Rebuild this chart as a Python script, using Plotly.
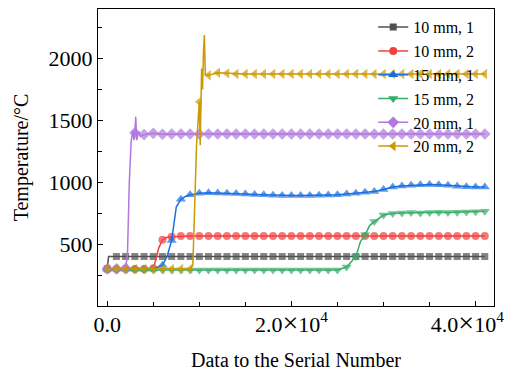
import plotly.graph_objects as go

# ---- data (serial number grid every 1000, plus extra unmarked transition points) ----
grid_x = list(range(0, 42000, 1000))

gray_y = [300, 400, 400, 400, 400, 400, 400, 400, 400, 400, 400, 400, 400, 400,
          400, 400, 400, 400, 400, 400, 400, 400, 400, 400, 400, 400, 400, 400,
          400, 400, 400, 400, 400, 400, 400, 400, 400, 400, 400, 400, 400, 400]
gray_extra = [(150, 400)]

red_y = [300, 300, 300, 300, 300, 305, 535, 560, 565, 565, 565, 565, 565, 565,
         565, 565, 565, 565, 565, 565, 565, 565, 565, 565, 565, 565, 565, 565,
         565, 565, 565, 565, 565, 565, 565, 565, 565, 565, 565, 565, 565, 565]
red_extra = [(5300, 380), (5600, 470), (6500, 555)]

blue_y = [300, 300, 300, 300, 300, 300, 330, 530, 862, 898, 912, 915, 914, 912,
          910, 906, 902, 898, 895, 893, 892, 892, 893, 894, 896, 900, 906, 912,
          920, 926, 942, 962, 970, 976, 980, 982, 980, 975, 968, 963, 962, 962]
blue_extra = [(6500, 400), (7500, 800), (8500, 885)]

green_y = [290, 290, 290, 290, 290, 290, 290, 290, 290, 290, 290, 290, 290, 290,
           290, 290, 290, 290, 290, 290, 290, 290, 290, 290, 290, 290, 315, 400,
           575, 682, 735, 748, 752, 755, 752, 755, 758, 755, 758, 760, 762, 765]
green_extra = [(27500, 520), (28500, 650)]

purple_y = [300, 300, 305, 1400, 1385, 1395, 1388, 1390, 1390, 1390, 1390, 1390, 1390, 1390,
            1390, 1390, 1390, 1390, 1390, 1390, 1390, 1390, 1390, 1390, 1390, 1390, 1390, 1390,
            1390, 1390, 1390, 1390, 1390, 1390, 1390, 1390, 1390, 1390, 1390, 1390, 1390, 1390]
purple_extra = [(2200, 420), (2400, 1000), (2600, 1330), (2800, 1420), (2900, 1340),
                (3100, 1530), (3200, 1340), (3400, 1410), (3600, 1370)]

gold_y = [300, 300, 300, 300, 300, 300, 300, 300, 300, 300, 1650, 1865, 1885, 1880,
          1875, 1875, 1875, 1875, 1875, 1875, 1875, 1875, 1875, 1875, 1875, 1875, 1875, 1875,
          1875, 1875, 1875, 1875, 1875, 1875, 1875, 1875, 1875, 1875, 1875, 1875, 1875, 1875]
gold_extra = [(9300, 330), (9500, 800), (9700, 1300), (10100, 1300), (10250, 1920),
              (10350, 1750), (10450, 2050), (10550, 2190), (10650, 1870)]

TIMES = '<span style="font-size:28px">×</span>'
x_tickvals = [0, 20000, 40000]
x_ticktext = ["0.0", "2.0" + TIMES + "10<sup>4</sup>",
              "4.0" + TIMES + "10<sup>4</sup>&nbsp;&nbsp;&nbsp;"]
y_tickvals = [500, 1000, 1500, 2000]

series = [
    ("10 mm, 1", gray_y, gray_extra, "#515151", "square", 7),
    ("10 mm, 2", red_y, red_extra, "#F14040", "circle", 8),
    ("15 mm, 1", blue_y, blue_extra, "#1A6FDF", "triangle-up", 9),
    ("15 mm, 2", green_y, green_extra, "#37AD6B", "triangle-down", 9),
    ("20 mm, 1", purple_y, purple_extra, "#B177DE", "diamond", 9),
    ("20 mm, 2", gold_y, gold_extra, "#CC9900", "triangle-left", 9),
]

FONT = "Liberation Serif, Times New Roman, serif"

fig = go.Figure()
for i, (name, ys, extra, color, sym, msize) in enumerate(series):
    pts = [(x, y, True) for x, y in zip(grid_x, ys)] + [(x, y, False) for x, y in extra]
    pts.sort(key=lambda p: p[0])
    xs = [p[0] for p in pts]
    yv = [p[1] for p in pts]
    sizes = [msize if p[2] else 0 for p in pts]
    fig.add_trace(go.Scatter(
        x=xs, y=yv, name=name, mode="lines+markers", showlegend=False,
        legendgroup=name,
        line=dict(color=color, width=1.5),
        marker=dict(symbol=sym, size=sizes, color=color, line=dict(width=0)),
    ))
# legend entries (no data drawn)
for i, (name, ys, extra, color, sym, msize) in enumerate(series):
    fig.add_trace(go.Scatter(
        x=[None], y=[None], name=name, mode="lines+markers", legendgroup=name,
        legendrank=i + 1,
        line=dict(color=color, width=1.5),
        marker=dict(symbol=sym, size=msize, color=color, line=dict(width=0)),
    ))

axis_common = dict(
    showline=True, linecolor="black", linewidth=1.3, mirror=True,
    ticks="inside", ticklen=5, tickwidth=1.3, tickcolor="black",
    showgrid=False, zeroline=False,
    tickfont=dict(family=FONT, size=22, color="black"),
    ticklabeloverflow="allow", automargin=False,
)

fig.update_layout(
    width=505, height=371,
    margin=dict(l=98, r=11, t=9, b=65, autoexpand=False),
    paper_bgcolor="white", plot_bgcolor="white",
    font=dict(family=FONT, color="black"),
    showlegend=True,
    legend=dict(x=0.695, y=0.996, xanchor="left", yanchor="top",
                bgcolor="rgba(0,0,0,0)", font=dict(family=FONT, size=16, color="black"),
                tracegroupgap=0),
    xaxis=dict(axis_common, range=[-1000, 42000],
               tickvals=x_tickvals, ticktext=x_ticktext,
               ticklabelstandoff=-2,
               minor=dict(ticks="inside", ticklen=4, tickwidth=1.3, tickcolor="black",
                          tickmode="linear", tick0=0, dtick=5000, showgrid=False),
               title=dict(text="Data to the Serial Number",
                          font=dict(family=FONT, size=20, color="black"), standoff=25)),
    yaxis=dict(axis_common, range=[0, 2400],
               tickvals=y_tickvals,
               minor=dict(ticks="inside", ticklen=4, tickwidth=1.3, tickcolor="black",
                          tickmode="linear", tick0=0, dtick=250, showgrid=False),
               title=dict(text="Temperature/°C",
                          font=dict(family=FONT, size=20, color="black"), standoff=14)),
)

fig.write_html("out.html")
